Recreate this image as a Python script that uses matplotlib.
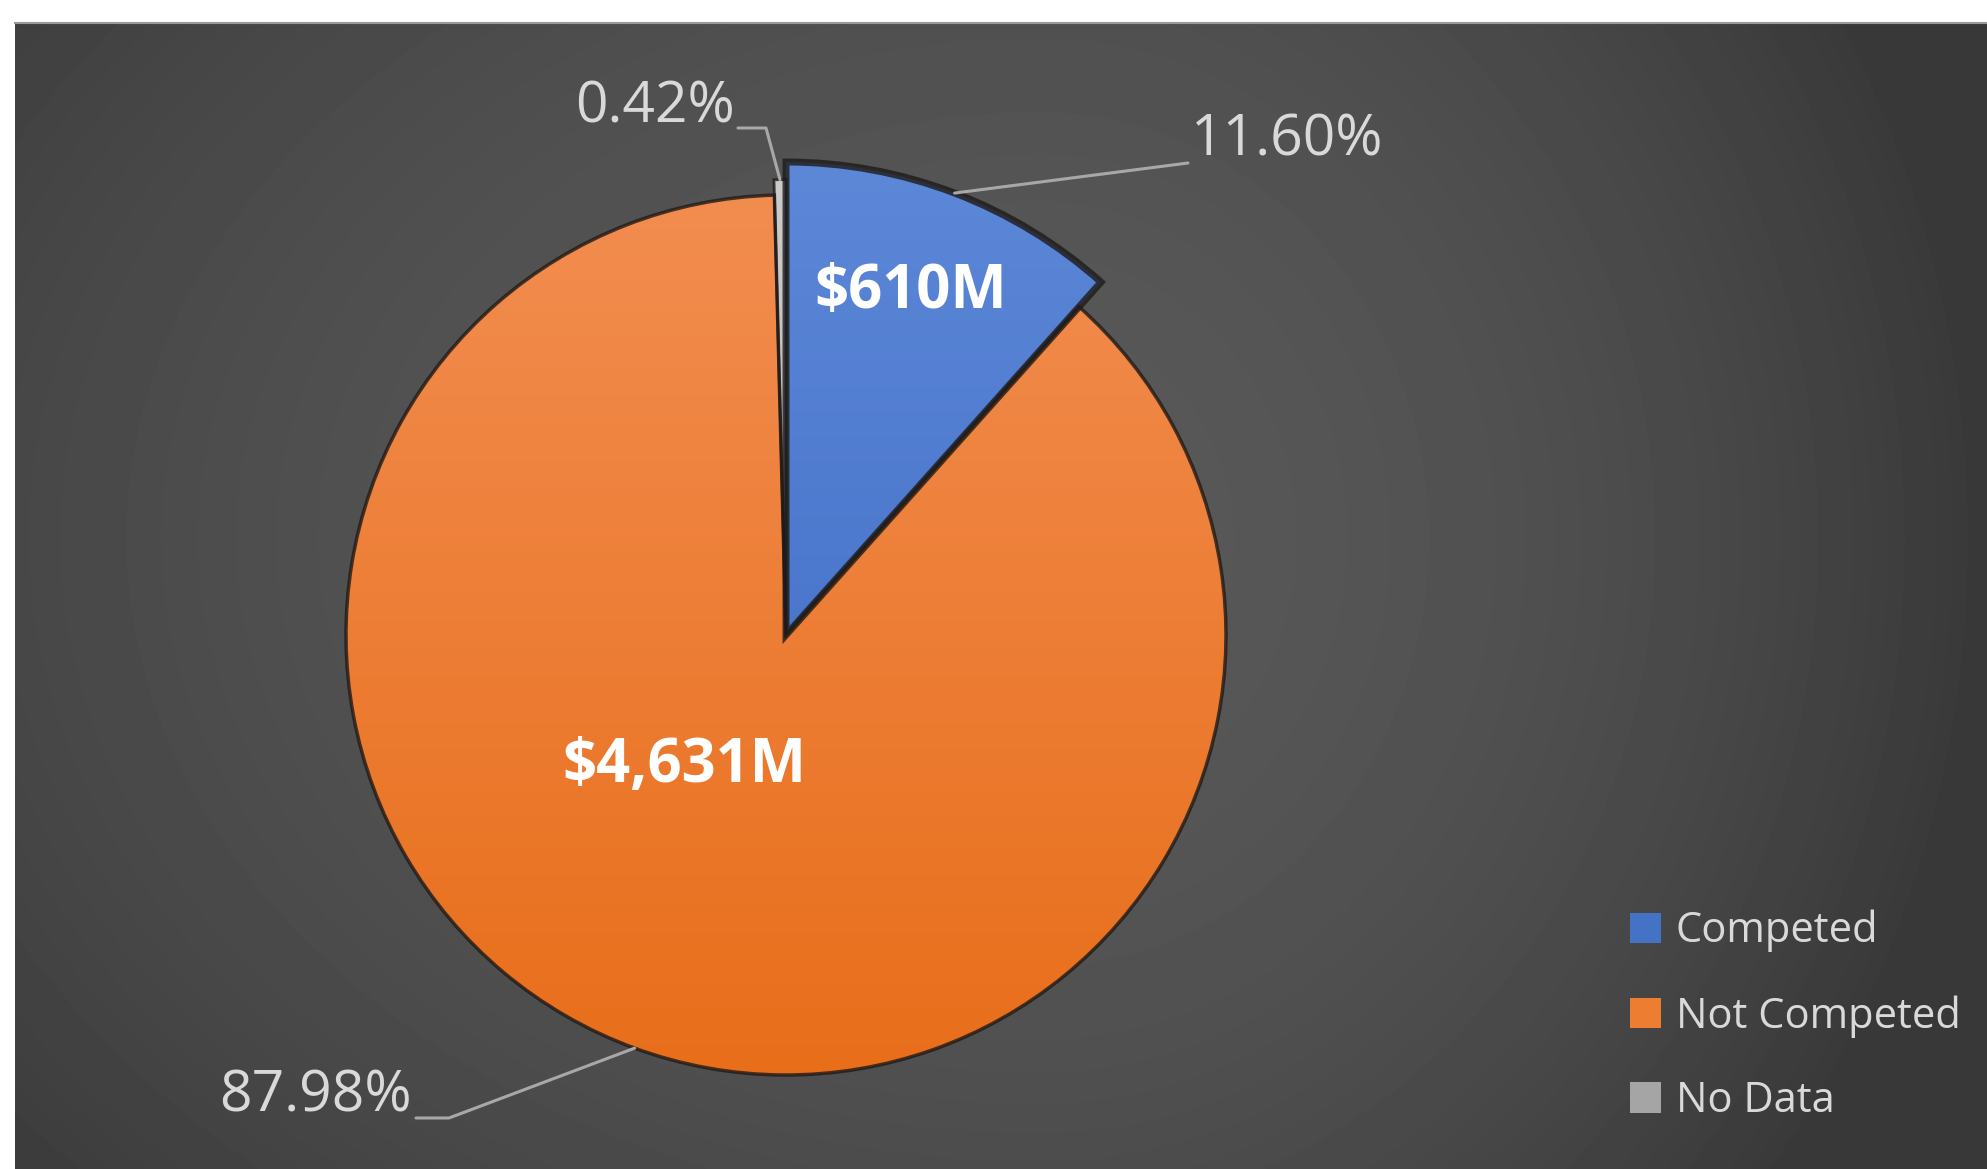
import numpy as np
import matplotlib.pyplot as plt
from matplotlib.patches import Rectangle
from matplotlib.colors import to_rgb

# ---- data ----
categories = ['Competed', 'Not Competed', 'No Data']
shares = [11.60, 87.98, 0.42]          # percent of total
amounts = [610, 4631, None]            # $M shown inside the slices
colors = ['#4472c4', '#ed7d31', '#a5a5a5']

# ---- layout (pixels, y measured from the top) ----
W, H = 1987, 1169
cx, cy_top = 786, 635
R = 440
radius_scale = [1.075, 1.0, 1.035]
edge_w = [5, 2.5, 2.0]
grad = [('#5d88d8', '#3764c0'), ('#f28d50', '#e86e1a'), ('#cccccc', '#a0a0a0')]
inner_pos = [(911, 292), (684, 767), None]
pct_text = [(1191, 141, 'left'), (412, 1097, 'right'), (735, 108, 'right')]
pct_elbow = [[(1188, 163)], [(449, 1118), (416, 1118)], [(766, 128), (738, 128)]]

def Y(y_top):
    return H - y_top

cy = Y(cy_top)

fig = plt.figure(figsize=(W / 100, H / 100), dpi=100)
fig.patch.set_facecolor('white')
ax = fig.add_axes([0, 0, 1, 1])

# background: dark radial gradient, darker on the right
yy, xx = np.mgrid[0:1:300j, 0:1:500j]
sx = np.where(xx < 0.52, 0.55, 0.37)
d2 = ((xx - 0.52) / sx) ** 2 + ((yy - 0.45) / 0.7) ** 2
bg = np.clip(0.345 - 0.073 * d2, 0.22, 0.35)
ax.imshow(bg, cmap='gray', vmin=0, vmax=1, extent=(15, W, 0, Y(23)),
          origin='upper', zorder=0, interpolation='bilinear')
ax.plot([15, W], [Y(23), Y(23)], color='#9a9a9a', lw=1.5, zorder=1)

# pie
wedges, _ = ax.pie(shares, colors=colors, startangle=90, counterclock=False,
                   center=(cx, cy), radius=R,
                   wedgeprops=dict(edgecolor=(0.12, 0.1, 0.09, 0.8), linewidth=3))
for w, s, lw in zip(wedges, radius_scale, edge_w):
    w.set_radius(R * s)
    w.set_linewidth(lw)

# gradient fill clipped to each wedge
t = np.linspace(0, 1, 256)[:, None, None]
for w, (c1, c2) in zip(wedges, grad):
    a, b = np.array(to_rgb(c1)), np.array(to_rgb(c2))
    img = np.repeat(a * (1 - t) + b * t, 2, axis=1)
    r = w.r
    im = ax.imshow(img, extent=(cx - r, cx + r, cy - r, cy + r), origin='upper',
                   zorder=2, interpolation='bilinear')
    im.set_clip_path(w)
    w.set_facecolor('none')
    w.set_zorder(3)

# value labels inside slices
for pos, amt in zip(inner_pos, amounts):
    if amt is None:
        continue
    ax.text(pos[0], Y(pos[1]), f'${amt:,}M', color='white', fontsize=43,
            fontweight='bold', family='Open Sans', ha='center', va='center', zorder=5)

# percentage labels with leader lines
for w, s, (tx, ty, ha), elbow in zip(wedges, shares, pct_text, pct_elbow):
    mid = np.deg2rad((w.theta1 + w.theta2) / 2)
    ax_x = cx + w.r * np.cos(mid)
    ax_y = cy + w.r * np.sin(mid)
    xs = [ax_x] + [p[0] for p in elbow]
    ys = [ax_y] + [Y(p[1]) for p in elbow]
    ax.plot(xs, ys, color='#a8a8a8', lw=2.2, zorder=4, solid_capstyle='round')
    ax.text(tx, Y(ty), f'{s:.2f}%', color='#d9d9d9', fontsize=41,
            family='Open Sans', ha=ha, va='center', zorder=5)

# legend
proxies = [Rectangle((0, 0), 1, 1, facecolor=c, edgecolor='none') for c in colors]
leg = ax.legend(proxies, categories, loc='upper left',
                bbox_to_anchor=(1630 / W, 1 - 910 / H), bbox_transform=fig.transFigure,
                frameon=False, prop=dict(family='Open Sans', size=30),
                labelcolor='#d9d9d9', handlelength=0.75, handleheight=0.75,
                handletextpad=0.35, labelspacing=1.02, borderpad=0, borderaxespad=0)

ax.set_xlim(0, W)
ax.set_ylim(0, H)
ax.set_aspect('auto')
ax.axis('off')

fig.savefig('out.png', dpi=100, facecolor=fig.get_facecolor())
